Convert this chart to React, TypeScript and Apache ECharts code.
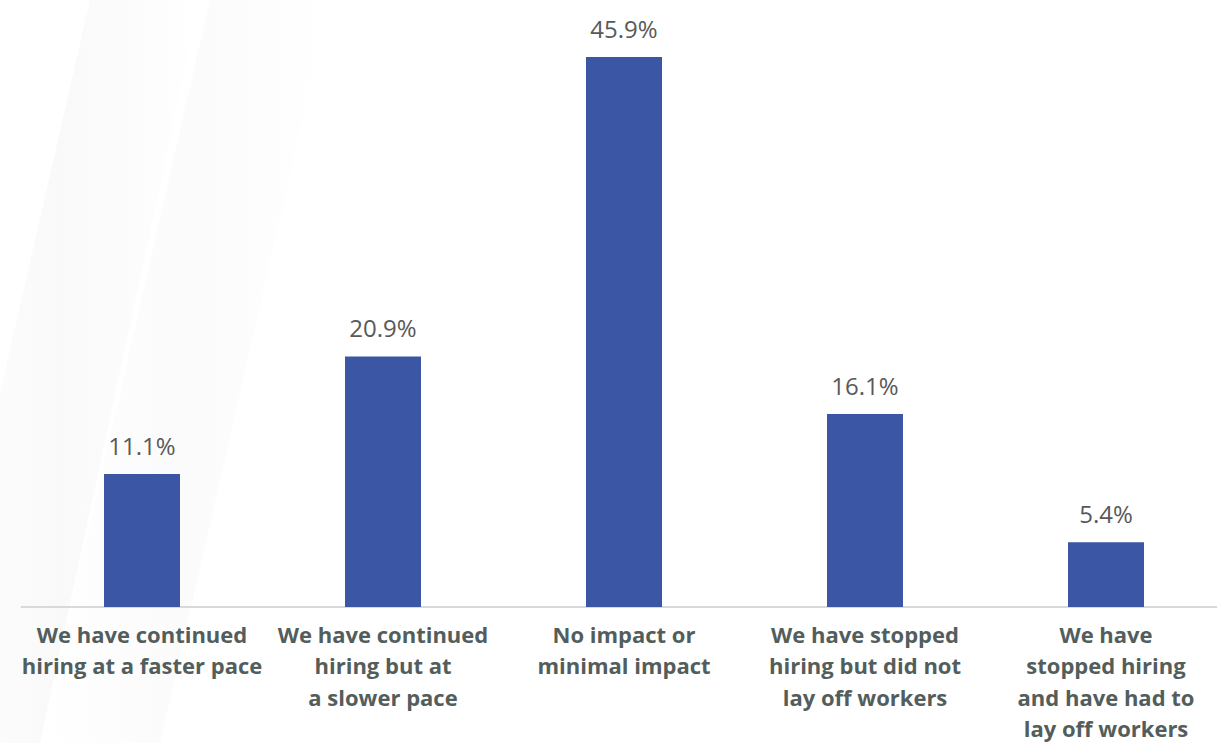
import React, { useEffect, useRef } from "react";
import * as echarts from "echarts";

const categories = [
  "We have continued\nhiring at a faster pace",
  "We have continued\nhiring but at\na slower pace",
  "No impact or\nminimal impact",
  "We have stopped\nhiring but did not\nlay off workers",
  "We have\nstopped hiring\nand have had to\nlay off workers",
];
const values = [11.1, 20.9, 45.9, 16.1, 5.4];

export default function App() {
  const ref = useRef<HTMLDivElement>(null);
  useEffect(() => {
    if (!ref.current) return;
    const chart = echarts.init(ref.current, null, { renderer: "svg" });
    const streak = (a: number) =>
      new echarts.graphic.LinearGradient(0, 0, 1, 0, [
        { offset: 0, color: "rgba(235,235,235,0)" },
        { offset: 0.5, color: `rgba(235,235,235,${a})` },
        { offset: 1, color: "rgba(235,235,235,0)" },
      ]);
    chart.setOption({
      animation: false,
      backgroundColor: "#ffffff",
      graphic: [
        {
          type: "polygon",
          silent: true,
          z: -10,
          shape: { points: [[90, 0], [200, 0], [40, 743], [-80, 743]] },
          style: { fill: streak(0.3) },
        },
        {
          type: "polygon",
          silent: true,
          z: -10,
          shape: { points: [[210, 0], [330, 0], [160, 743], [40, 743]] },
          style: { fill: streak(0.2) },
        },
      ],
      grid: {
        left: 21.5,
        width: 1205,
        top: 8,
        height: 599,
        containLabel: false,
        outerBoundsMode: "none",
      },
      xAxis: {
        type: "category",
        data: categories,
        axisLine: { show: true, lineStyle: { color: "#d9d9d9", width: 2 } },
        axisTick: { show: false },
        axisLabel: {
          interval: 0,
          margin: 11,
          color: "#535e5c",
          fontFamily: "Open Sans",
          fontWeight: 700,
          fontSize: 22,
          lineHeight: 31.5,
        },
      },
      yAxis: {
        type: "value",
        min: 0,
        max: 50,
        show: false,
        splitLine: { show: false },
      },
      series: [
        {
          type: "bar",
          data: values,
          barWidth: 76,
          itemStyle: { color: "#3c56a6" },
          label: {
            show: true,
            position: "top",
            distance: 17,
            formatter: (p: any) => p.value.toFixed(1) + "%",
            color: "#595959",
            fontFamily: "Open Sans",
            fontSize: 24,
          },
        },
      ],
    });
    return () => chart.dispose();
  }, []);
  return (
    <div
      ref={ref}
      style={{ position: "fixed", left: 0, top: 0, width: 1217, height: 743 }}
    />
  );
}
